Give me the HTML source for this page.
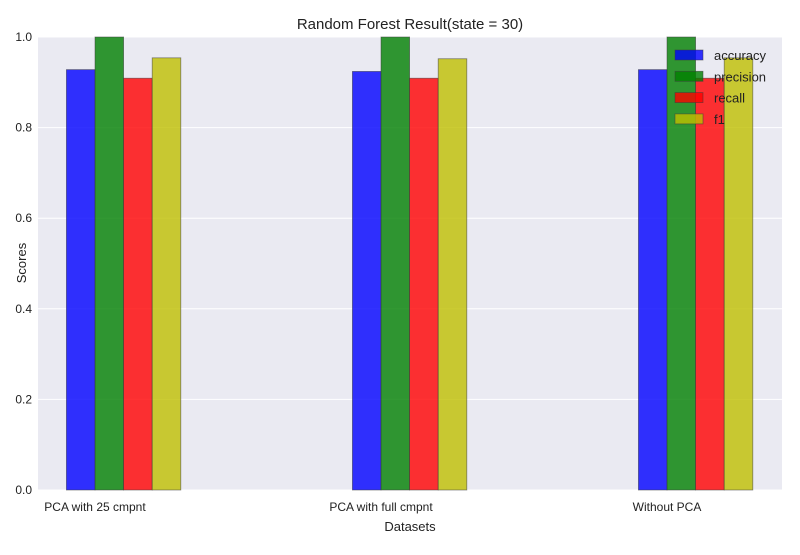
<!DOCTYPE html>
<html><head><meta charset="utf-8"><style>
body{margin:0;background:#fff;font-family:"Liberation Sans",sans-serif}
svg text{font-family:"Liberation Sans",sans-serif;fill:#222}
</style></head><body>
<svg id="c" width="800" height="550"></svg>
<script>
const categories=["PCA with 25 cmpnt","PCA with full cmpnt","Without PCA"];
const seriesNames=["accuracy","precision","recall","f1"];
const accuracy=[0.928,0.924,0.928];
const precision=[1.0,1.0,1.0];
const recall=[0.909,0.909,0.909];
const f1=[0.954,0.952,0.954];
const yTicks=[0.0,0.2,0.4,0.6,0.8,1.0];
const colors=["rgba(0,0,255,0.8)","rgba(0,128,0,0.8)","rgba(255,0,0,0.8)","rgba(191,191,0,0.8)"];
const series=[accuracy,precision,recall,f1];
const L=38,R=782,T=37,B=490,bw=28.6;
const ns="http://www.w3.org/2000/svg";
const svg=document.getElementById('c');
function y(v){return B-(v-0)/(1-0)*(B-T);}
function x(i){return 95+i*286;}
function mk(t,a,p){const e=document.createElementNS(ns,t);for(const k in a)e.setAttribute(k,a[k]);(p||svg).appendChild(e);return e;}
const bg=mk('rect',{x:L,y:T,width:R-L,height:B-T,fill:'#EAEAF2'});


yTicks.forEach(t=>{
 const g=mk('line',{x1:L,x2:R,y1:y(t),y2:y(t),stroke:'#fff','stroke-width':1});
 
 
 const tx=mk('text',{x:L-6,y:y(t)+4,'text-anchor':'end','font-size':12});
 tx.textContent=t.toFixed(1);
 
 
});
categories.forEach((c,i)=>{
 series.forEach((s,j)=>{
  const r=mk('rect',{x:x(i)-bw+j*bw,y:y(s[i]),width:bw,height:B-y(s[i]),fill:colors[j],stroke:'rgba(60,60,60,0.6)','stroke-width':0.8});
  
  
 });
 const tx=mk('text',{x:x(i),y:511,'text-anchor':'middle','font-size':12});
 tx.textContent=c;
 
 
});
seriesNames.forEach((n,j)=>{
 const yy=55+j*21.3;
 const p=mk('rect',{x:675,y:yy-5,width:28,height:10,fill:colors[j],stroke:'rgba(60,60,60,0.6)','stroke-width':0.8});
 
 
 const t=mk('text',{x:714,y:yy+5,'font-size':13});
 t.textContent=n;
 
 
});
const ti=mk('text',{x:410,y:29,'text-anchor':'middle','font-size':15});
ti.textContent='Random Forest Result(state = 30)';


const xl=mk('text',{x:410,y:531,'text-anchor':'middle','font-size':13});
xl.textContent='Datasets';


const yl=mk('text',{x:0,y:0,'text-anchor':'middle','font-size':13,transform:'translate(26,263) rotate(-90)'});
yl.textContent='Scores';


</script>
</body></html>
